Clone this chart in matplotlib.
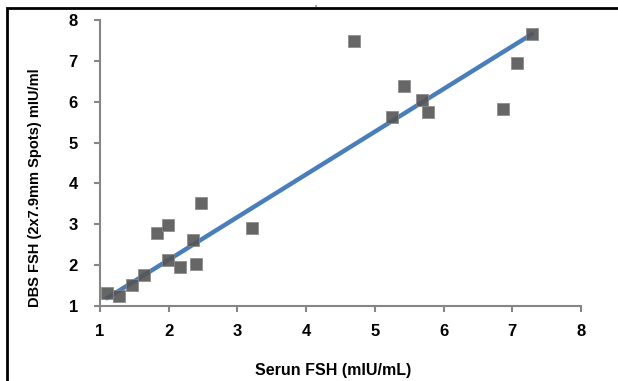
import matplotlib
matplotlib.use('Agg')
import matplotlib.pyplot as plt
from matplotlib.patches import Rectangle

# serum vs dried blood spot FSH readings
serum_fsh = [1.10, 1.28, 1.46, 1.64, 1.83, 1.985, 1.985, 2.16, 2.36, 2.40,
             2.47, 3.21, 4.70, 5.25, 5.43, 5.68, 5.78, 6.87, 7.07, 7.29]
dbs_fsh = [1.32, 1.24, 1.51, 1.76, 2.79, 2.98, 2.12, 1.96, 2.62, 2.04,
           3.51, 2.90, 7.49, 5.62, 6.38, 6.04, 5.76, 5.82, 6.94, 7.66]
# trendline as drawn in the original
trend_x = [1.10, 7.29]
trend_y = [1.19, 7.66]
ticks = [1, 2, 3, 4, 5, 6, 7, 8]

plt.rcParams['font.family'] = ['Liberation Sans', 'DejaVu Sans']
plt.rcParams['font.weight'] = 'bold'
plt.rcParams['axes.labelweight'] = 'bold'

fig = plt.figure(figsize=(6.18, 3.81), dpi=100)
ax = fig.add_axes([100/618, 75/381, 481/618, 286/381])

ax.plot(trend_x, trend_y, color='#4a7ebb', lw=3.2, solid_capstyle='round', zorder=2)
ax.scatter(serum_fsh, dbs_fsh, marker='s', s=80, color='#555555', alpha=0.9,
           edgecolors='#8a8a8a', linewidths=0.6, zorder=3)

ax.set_xlim(1, 8)
ax.set_ylim(1, 8)
ax.set_xticks(ticks)
ax.set_yticks(ticks)
for s in ['top', 'right']:
    ax.spines[s].set_visible(False)
for s in ['left', 'bottom']:
    ax.spines[s].set_color('#868686')
    ax.spines[s].set_linewidth(1.5)
ax.tick_params(direction='out', length=4, width=1.5, color='#868686',
               labelsize=12)
ax.tick_params(axis='x', pad=9)
ax.tick_params(axis='y', pad=12)

ax.set_xlabel('Serun FSH (mIU/mL)', fontsize=11.5)
ax.set_ylabel('DBS FSH (2x7.9mm Spots) mIU/ml', fontsize=10.5)
ax.xaxis.set_label_coords(0.485, -0.224)
ax.yaxis.set_label_coords(-0.136, 0.413)
ax.xaxis.label.set_va('center')
ax.yaxis.label.set_va('center')

# outer frame, cut at right and bottom
fig.patches.append(Rectangle((7/618, -0.05), 1.0, (373/381) + 0.05,
                             transform=fig.transFigure, fill=False,
                             edgecolor='black', lw=2, clip_on=False))
fig.text(316/618, 0.999, ',', fontsize=5, ha='center', va='top')

fig.savefig('out.png', dpi=100)
